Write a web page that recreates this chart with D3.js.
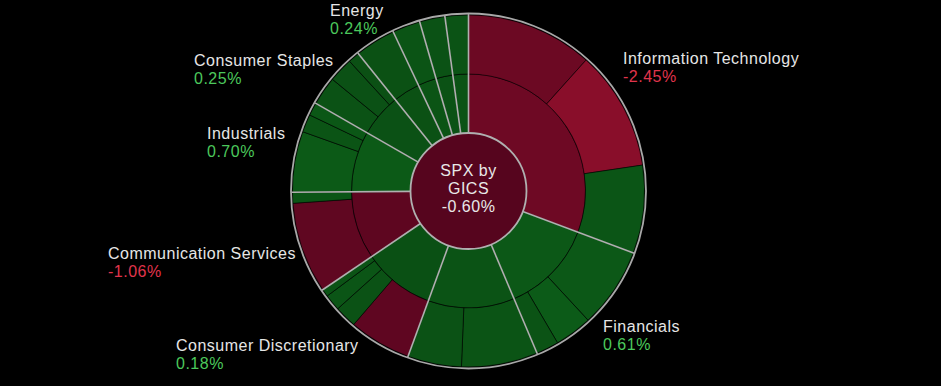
<!DOCTYPE html>
<html>
<head>
<meta charset="utf-8">
<script src="https://cdn.jsdelivr.net/npm/d3@7"></script>
<style>
  html, body { margin: 0; padding: 0; background: #000; }
  svg { display: block; }
  text { font-family: 'Liberation Sans', Arial, sans-serif; font-size: 16px; letter-spacing: 0.5px; }
</style>
</head>
<body>
<script>
// Chart settings
const width = 941
const height = 386
const cx = 468.5
const cy = 191
const rCenter = 58
const rMid = 117
const rOuter = 176
const lineGap = 18

// Sectors, clockwise from 12 o'clock
const sectors = ['Information Technology', 'Financials', 'Health Care', 'Consumer Discretionary',
  'Communication Services', 'Industrials', 'Consumer Staples', 'Energy',
  'Utilities', 'Materials', 'Real Estate']
const sectorChange = [-2.45, 0.61, 0.35, 0.18, -1.06, 0.70, 0.25, 0.24, 0.40, 0.30, 0.35]

// Industry weights (% of index) and changes inside each sector
const groupWeights = [
  [11.64, 11.00, 8.08],
  [7.39, 3.44, 2.08],
  [7.00, 4.94],
  [5.72, 2.03, 1.50, 0.69],
  [8.36, 1.00],
  [5.58, 1.64, 1.19],
  [2.64, 2.25, 1.06],
  [3.72],
  [2.56],
  [2.33],
  [2.14]
]
const groupChange = [
  [-2.3, -4.2, 0.45],
  [0.60, 0.75, 0.35],
  [0.40, 0.30],
  [-1.2, 0.30, 0.45, 0.35],
  [-1.3, 0.45],
  [0.70, 0.40, 0.55],
  [0.30, 0.25, 0.20],
  [0.24],
  [0.40],
  [0.30],
  [0.35]
]

// Index total
const indexName = ['SPX by', 'GICS']
const indexChange = -0.60

// Sectors that carry a label, and where the label block sits (left x, first baseline)
const labelled = ['Information Technology', 'Financials', 'Consumer Discretionary',
  'Communication Services', 'Industrials', 'Consumer Staples', 'Energy']
const labelAt = [[623, 64], [603, 332], [176, 351], [108, 259], [207, 139], [194, 66], [330, 16]]

// Colors
const redScale = d3.scalePow().exponent(1.5).domain([0, -4.5]).range(['#58051f', '#8e0f2b']).clamp(true)
const greenScale = d3.scaleLinear().domain([0, 1.5]).range(['#0a4c13', '#0e6a1c']).clamp(true)
const fillColor = v => v < 0 ? redScale(v) : greenScale(v)
const fmt = v => v.toFixed(2) + '%'

// Build hierarchy
const root = d3.hierarchy({
  name: 'SPX',
  children: sectors.map((s, i) => ({
    name: s,
    change: sectorChange[i],
    children: groupWeights[i].map((w, j) => ({ name: s + ' ' + (j + 1), weight: w, change: groupChange[i][j] }))
  }))
}).sum(d => d.weight || 0)

d3.partition().size([2 * Math.PI, 2])(root)

const radius = [rCenter, rMid, rOuter]
const arc = d3.arc()
  .startAngle(d => d.x0)
  .endAngle(d => d.x1)
  .innerRadius(d => radius[d.depth - 1])
  .outerRadius(d => radius[d.depth])

const svg = d3.select('body').append('svg')
  .attr('width', width)
  .attr('height', height)

svg.append('rect').attr('width', width).attr('height', height).attr('fill', '#000')

const g = svg.append('g').attr('transform', `translate(${cx},${cy})`)

// Outer ring (industries) and inner ring (sectors)
g.selectAll('path.cell')
  .data(root.descendants().filter(d => d.depth > 0))
  .join('path')
  .attr('class', 'cell')
  .attr('d', arc)
  .attr('fill', d => fillColor(d.data.change))
  .attr('stroke', 'rgba(0,0,0,0.55)')
  .attr('stroke-width', 1)

// Sector separators
g.selectAll('line.sep')
  .data(root.children)
  .join('line')
  .attr('class', 'sep')
  .attr('x1', d => d3.pointRadial(d.x0, rCenter)[0])
  .attr('y1', d => d3.pointRadial(d.x0, rCenter)[1])
  .attr('x2', d => d3.pointRadial(d.x0, rOuter + 1)[0])
  .attr('y2', d => d3.pointRadial(d.x0, rOuter + 1)[1])
  .attr('stroke', '#b0b0b0')
  .attr('stroke-width', 1.6)

// Outer rim
g.append('circle')
  .attr('r', rOuter + 1.5)
  .attr('fill', 'none')
  .attr('stroke', '#a8a8a8')
  .attr('stroke-width', 1.8)

// Center
g.append('circle')
  .attr('r', rCenter)
  .attr('fill', d3.color(fillColor(indexChange)).darker(0.15))
  .attr('stroke', '#b0b0b0')
  .attr('stroke-width', 1.8)

const centerText = g.append('text')
  .attr('text-anchor', 'middle')
  .attr('fill', '#e8e8e8')
centerText.selectAll('tspan')
  .data([...indexName, fmt(indexChange)])
  .join('tspan')
  .attr('x', 0)
  .attr('y', (d, i) => -15 + i * lineGap)
  .text(d => d)

// Sector labels: name and change
const labels = svg.selectAll('g.label')
  .data(labelled)
  .join('g')
  .attr('class', 'label')
  .attr('transform', (d, i) => `translate(${labelAt[i][0]},${labelAt[i][1]})`)

labels.append('text')
  .attr('fill', '#e6e6e6')
  .text(d => d)

labels.append('text')
  .attr('y', lineGap)
  .attr('fill', d => sectorChange[sectors.indexOf(d)] < 0 ? '#e0344c' : '#4cc85c')
  .text(d => fmt(sectorChange[sectors.indexOf(d)]))
</script>
</body>
</html>
